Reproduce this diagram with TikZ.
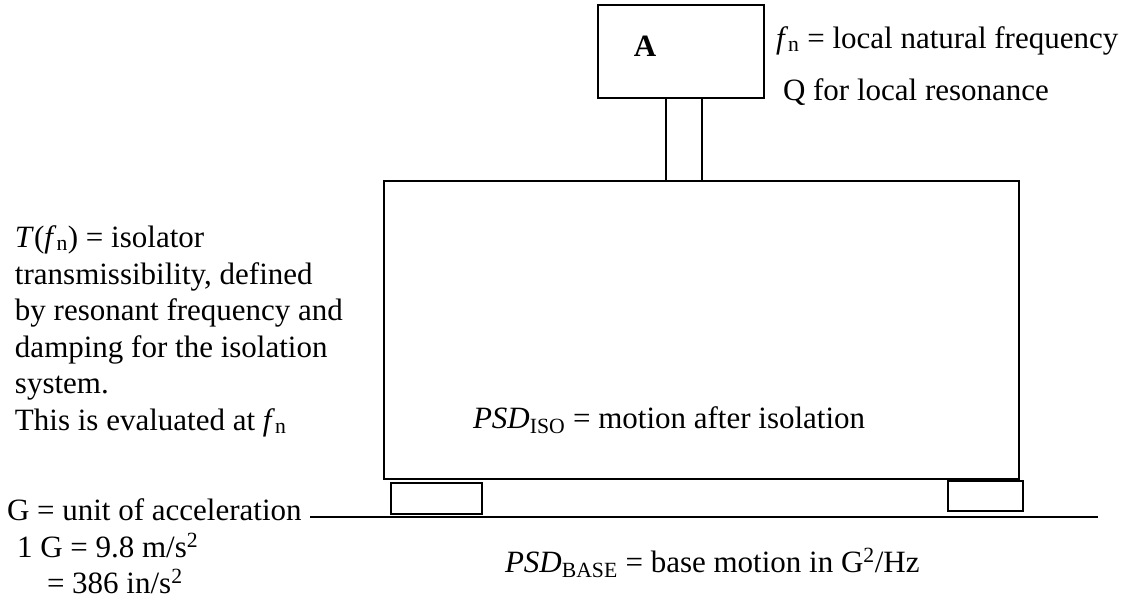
\documentclass[tikz,border=0pt]{standalone}
\usepackage{fontspec}
\setmainfont{Liberation Serif}
\begin{document}
\begin{tikzpicture}[x=1pt,y=-1pt,
  lbl/.style={anchor=base west, inner sep=0pt, outer sep=0pt, font=\fontsize{31}{37}\selectfont},
  box/.style={draw, line width=2pt, inner sep=0pt, outer sep=0pt, anchor=north west},
  ground/.style={line width=2pt}]
\useasboundingbox (0,0) rectangle (1144,600);
% boxes
\node[box, minimum width=166pt, minimum height=93pt] (boxA) at (598,5) {};
\node[box, minimum width=36pt, minimum height=83pt] (stem) at (666,98) {};
\node[box, minimum width=635pt, minimum height=298pt] (body) at (384,181) {};
\node[box, minimum width=91pt, minimum height=31pt] (footL) at (391,483) {};
\node[box, minimum width=75pt, minimum height=30pt] (footR) at (948,481) {};
\coordinate (g1) at (310,517);
\coordinate (g2) at (1098,517);
\draw[ground] (g1) -- (g2);
% labels
\node[anchor=center, inner sep=0pt, font=\fontsize{31}{37}\selectfont\bfseries] (lA) at (645,46) {A};
\node[lbl] (fn) at (776,48) {\textit{f}\textsubscript{n} = local natural frequency};
\node[lbl] (Q) at (783,100) {Q for local resonance};
\node[lbl] (t1) at (15,247) {\textit{T}(\textit{f}\textsubscript{n}) = isolator};
\node[lbl] (t2) at (15,284) {transmissibility, defined};
\node[lbl] (t3) at (15,320) {by resonant frequency and};
\node[lbl] (t4) at (15,357) {damping for the isolation};
\node[lbl] (t5) at (15,393) {system.};
\node[lbl] (t6) at (15,430) {This is evaluated at \textit{f}\textsubscript{n}};
\node[lbl] (iso) at (473,428) {\textit{PSD}\textsubscript{ISO} = motion after isolation};
\node[lbl] (base) at (505,572) {\textit{PSD}\textsubscript{BASE} = base motion in G\textsuperscript{2}/Hz};
\node[lbl] (g1t) at (7,520) {G = unit of acceleration};
\node[lbl] (g2t) at (17,557) {1 G = 9.8 m/s\textsuperscript{2}};
\node[lbl] (g3t) at (47,593) {= 386 in/s\textsuperscript{2}};
\end{tikzpicture}
\end{document}
